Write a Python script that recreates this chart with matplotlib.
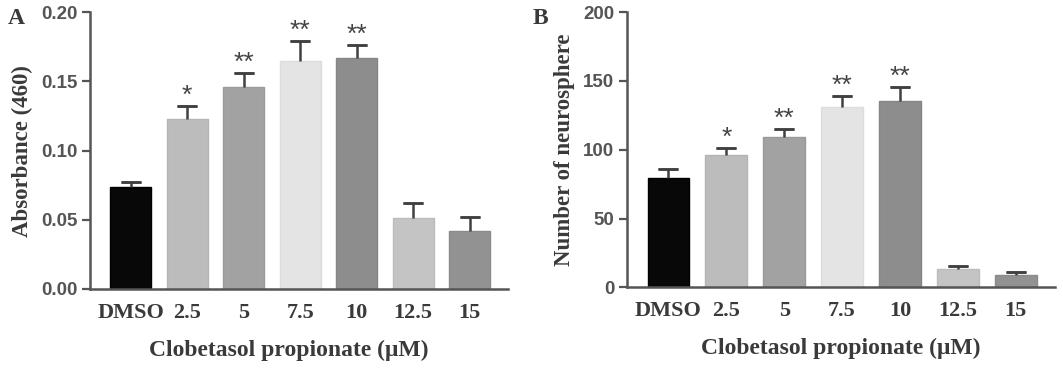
import matplotlib
matplotlib.use("Agg")
import matplotlib.pyplot as plt
import numpy as np

categories = ["DMSO", "2.5", "5", "7.5", "10", "12.5", "15"]
absorbance = [0.074, 0.123, 0.146, 0.165, 0.167, 0.051, 0.042]
absorbance_err = [0.0035, 0.009, 0.010, 0.014, 0.0095, 0.011, 0.010]
absorbance_sig = ["", "*", "**", "**", "**", "", ""]
neuro = [79.6, 96.1, 109.0, 130.8, 135.6, 13.1, 8.9]
neuro_err = [6.4, 5.3, 6.0, 8.2, 10.1, 2.6, 2.4]
neuro_sig = ["", "*", "**", "**", "**", "", ""]
bar_colors = ["#080808", "#bcbcbc", "#a2a2a2", "#e4e4e4", "#8d8d8d", "#c4c4c4", "#929292"]
edge_colors = ["#000000", "#b4b4b4", "#9a9a9a", "#dcdcdc", "#858585", "#bcbcbc", "#8a8a8a"]

SERIF = ["Liberation Serif", "DejaVu Serif"]
SANS = ["Liberation Sans", "DejaVu Sans"]
AX_COL = "#555555"
TXT_COL = "#3a3a3a"

fig = plt.figure(figsize=(10.63, 3.68), dpi=100)
axA = fig.add_axes([0.0847, 0.2147, 0.478 - 0.0847, 0.967 - 0.2147])
axB = fig.add_axes([0.5896, 0.219, 0.9925 - 0.5896, 0.967 - 0.219])


def draw(ax, vals, errs, sig, ymax, yticks, ytick_labels, ylabel, letter, letter_x, xlabel_x):
    x = np.arange(len(categories))
    ax.bar(x, vals, width=0.72, color=bar_colors, edgecolor=edge_colors, linewidth=1.0, zorder=2)
    tops = np.array(vals) + np.array(errs)
    ax.vlines(x, vals, tops, colors="#404040", linewidth=1.8, zorder=3)
    ax.errorbar(x, tops, yerr=0, fmt="none", ecolor="#404040", elinewidth=0,
                capsize=7, capthick=1.8, zorder=3)
    for xi, t, s in zip(x, tops, sig):
        if s:
            ax.annotate(s, (xi, t), xytext=(0, -1.5), textcoords="offset points",
                        ha="center", va="bottom", fontsize=19, family=SANS,
                        color="#444444")
    ax.set_xlim(-0.72, 6.68)
    ax.set_ylim(0, ymax)
    ax.set_yticks(yticks)
    ax.set_yticklabels(ytick_labels, family=SANS, fontsize=13.5, color="#555555", fontweight="bold")
    ax.set_xticks(x)
    ax.set_xticklabels(categories, family=SERIF, fontsize=16, color=TXT_COL, fontweight="bold")
    ax.tick_params(axis="x", length=0, pad=10)
    ax.tick_params(axis="y", length=6, width=1.6, color=AX_COL, pad=3)
    for side in ["top", "right"]:
        ax.spines[side].set_visible(False)
    for side in ["left", "bottom"]:
        ax.spines[side].set_color(AX_COL)
        ax.spines[side].set_linewidth(1.8)
    ax.set_xlabel("Clobetasol propionate (\u03bcM)", family=SERIF, fontsize=17,
                  color=TXT_COL, fontweight="bold", labelpad=12)
    ax.xaxis.label.set_x(xlabel_x)
    ax.set_ylabel(ylabel, family=SERIF, fontsize=16.5, color=TXT_COL,
                  fontweight="bold", labelpad=6)
    fig.text(letter_x, 0.95, letter, family=SERIF, fontsize=17, fontweight="bold",
             color=TXT_COL, ha="left", va="center")


draw(axA, absorbance, absorbance_err, absorbance_sig, 0.20,
     [0.0, 0.05, 0.10, 0.15, 0.20], ["0.00", "0.05", "0.10", "0.15", "0.20"],
     "Absorbance (460)", "A", 0.007, 0.476)
draw(axB, neuro, neuro_err, neuro_sig, 200,
     [0, 50, 100, 150, 200], ["0", "50", "100", "150", "200"],
     "Number of neurosphere", "B", 0.501, 0.5)

fig.savefig("out.png", dpi=100)
